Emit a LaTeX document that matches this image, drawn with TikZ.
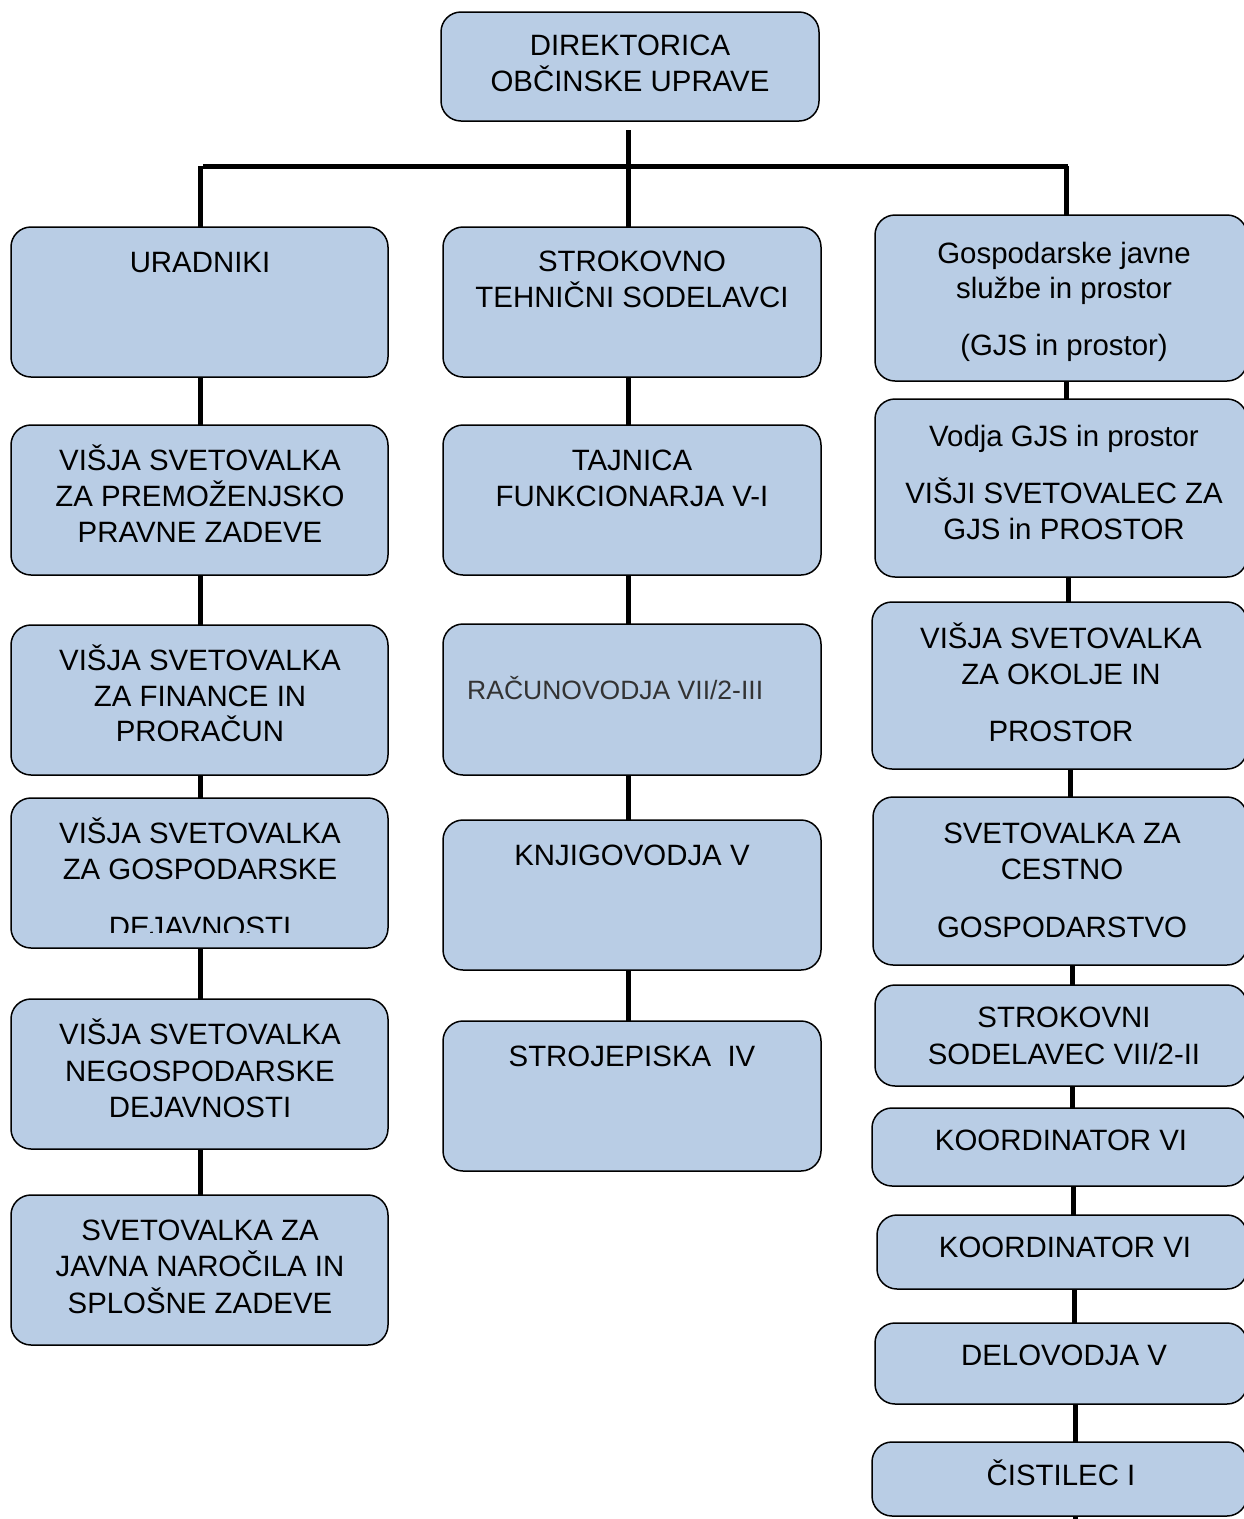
\documentclass[tikz,border=0pt]{standalone}
\usepackage{fontspec}
\setmainfont{Liberation Sans}
\definecolor{boxfill}{HTML}{B9CDE5}
\newcounter{lblc}
\newcommand\tx[3]{\stepcounter{lblc}\node[lbl] (t\arabic{lblc}) at (#1,#2) {#3};}
\begin{document}
\begin{tikzpicture}[x=1pt,y=-1pt,
  boxst/.style={draw=black, line width=1.5pt, fill=boxfill, rounded corners=20pt, inner sep=0pt, outer sep=0pt},
  lbl/.style={anchor=base, inner sep=0pt, font=\fontsize{29.4}{34}\selectfont},
  conn/.style={line width=5pt}]
\useasboundingbox (0,0) rectangle (1244,1519);
\clip (0,0) rectangle (1244,1519);
\fill[white] (0,0) rectangle (1244,1519);

% coordinates for connector lines
\coordinate (topc) at (628,130);
\coordinate (hl) at (203,166);
\coordinate (hr) at (1068,166);
\coordinate (cl) at (200,166);
\coordinate (cm) at (628,166);
\coordinate (cr0) at (1066,166);
\coordinate (cr1) at (1066,0);
\coordinate (cr2) at (1068,0);
\coordinate (cr3) at (1070,0);
\coordinate (cr4) at (1072,0);
\coordinate (cr5) at (1072,0);
\coordinate (cr6) at (1073,0);
\coordinate (cr7) at (1074,0);
\coordinate (cr8) at (1075,0);
\coordinate (bend) at (1075,1530);

% boxes
\node[boxst, minimum width=378pt, minimum height=109pt] (T) at (630,66.5) {};

\node[boxst, minimum width=377pt, minimum height=150pt] (L0) at (199.5,302) {};
\node[boxst, minimum width=377pt, minimum height=150pt] (L1) at (199.5,500) {};
\node[boxst, minimum width=377pt, minimum height=150pt] (L2) at (199.5,700) {};
\node[boxst, minimum width=377pt, minimum height=150pt] (L3) at (199.5,873) {};
\node[boxst, minimum width=377pt, minimum height=150pt] (L4) at (199.5,1074) {};
\node[boxst, minimum width=377pt, minimum height=150pt] (L5) at (199.5,1270) {};

\node[boxst, minimum width=378pt, minimum height=150pt] (M0) at (632,302) {};
\node[boxst, minimum width=378pt, minimum height=150pt] (M1) at (632,500) {};
\node[boxst, minimum width=378pt, minimum height=151pt] (M2) at (632,699.5) {};
\node[boxst, minimum width=378pt, minimum height=150pt] (M3) at (632,895) {};
\node[boxst, minimum width=378pt, minimum height=150pt] (M4) at (632,1096) {};

\node[boxst, minimum width=372pt, minimum height=166pt] (R0) at (1061,298) {};
\node[boxst, minimum width=372pt, minimum height=178pt] (R1) at (1061,488) {};
\node[boxst, minimum width=375pt, minimum height=167pt] (R2) at (1059.5,685.5) {};
\node[boxst, minimum width=374pt, minimum height=168pt] (R3) at (1060,881) {};
\node[boxst, minimum width=372pt, minimum height=101pt] (R4) at (1061,1035.5) {};
\node[boxst, minimum width=375pt, minimum height=78pt] (R5) at (1059.5,1147) {};
\node[boxst, minimum width=370pt, minimum height=74pt] (R6) at (1062,1252) {};
\node[boxst, minimum width=372pt, minimum height=81pt] (R7) at (1061,1363.5) {};
\node[boxst, minimum width=375pt, minimum height=74pt] (R8) at (1059.5,1479) {};

% top connectors
\draw[conn] (hl) -- (hr);
\draw[conn] (topc) -- (M0.north -| topc);
\draw[conn] (cl) -- (L0.north -| cl);
\draw[conn] (cr0) -- (R0.north -| cr0);

% column connectors
\foreach \a/\b in {L0/L1,L1/L2,L2/L3,L3/L4,L4/L5}
  \draw[conn] (\a.south -| cl) -- (\b.north -| cl);
\foreach \a/\b in {M0/M1,M1/M2,M2/M3,M3/M4}
  \draw[conn] (\a.south -| cm) -- (\b.north -| cm);
\draw[conn] (R0.south -| cr1) -- (R1.north -| cr1);
\draw[conn] (R1.south -| cr2) -- (R2.north -| cr2);
\draw[conn] (R2.south -| cr3) -- (R3.north -| cr3);
\draw[conn] (R3.south -| cr4) -- (R4.north -| cr4);
\draw[conn] (R4.south -| cr5) -- (R5.north -| cr5);
\draw[conn] (R5.south -| cr6) -- (R6.north -| cr6);
\draw[conn] (R6.south -| cr7) -- (R7.north -| cr7);
\draw[conn] (R7.south -| cr8) -- (R8.north -| cr8);
\draw[conn] (R8.south -| bend) -- (bend);

% texts
\tx{630}{55}{DIREKTORICA}
\tx{630}{91}{OBČINSKE UPRAVE}

\tx{200}{272}{URADNIKI}
\tx{200}{470}{VIŠJA SVETOVALKA}
\tx{200}{506}{ZA PREMOŽENJSKO}
\tx{200}{542}{PRAVNE ZADEVE}
\tx{200}{670}{VIŠJA SVETOVALKA}
\tx{200}{706}{ZA FINANCE IN}
\tx{200}{741}{PRORAČUN}
\tx{200}{843}{VIŠJA SVETOVALKA}
\tx{200}{879}{ZA GOSPODARSKE}
\begin{scope}
\clip (11,790) rectangle (388,932);
\tx{200}{937}{DEJAVNOSTI}
\end{scope}
\tx{200}{1044}{VIŠJA SVETOVALKA}
\tx{200}{1081}{NEGOSPODARSKE}
\tx{200}{1117}{DEJAVNOSTI}
\tx{200}{1240}{SVETOVALKA ZA}
\tx{200}{1276}{JAVNA NAROČILA IN}
\tx{200}{1313}{SPLOŠNE ZADEVE}

\tx{632}{271}{STROKOVNO}
\tx{632}{307}{TEHNIČNI SODELAVCI}
\tx{632}{470}{TAJNICA}
\tx{632}{506}{FUNKCIONARJA V-I}
\stepcounter{lblc}
\node[lbl, anchor=base west, text=black!80, font=\fontsize{26.5}{32}\selectfont] (t\arabic{lblc}) at (467,699) {RAČUNOVODJA VII/2-III};
\tx{632}{865}{KNJIGOVODJA V}
\tx{632}{1066}{STROJEPISKA\ \ IV}

\tx{1064}{263}{Gospodarske javne}
\tx{1064}{298}{službe in prostor}
\tx{1064}{355}{(GJS in prostor)}
\tx{1064}{446}{Vodja GJS in prostor}
\tx{1064}{503}{VIŠJI SVETOVALEC ZA}
\tx{1064}{539}{GJS in PROSTOR}
\tx{1061}{648}{VIŠJA SVETOVALKA}
\tx{1061}{684}{ZA OKOLJE IN}
\tx{1061}{741}{PROSTOR}
\tx{1062}{843}{SVETOVALKA ZA}
\tx{1062}{879}{CESTNO}
\tx{1062}{937}{GOSPODARSTVO}
\tx{1064}{1027}{STROKOVNI}
\tx{1064}{1064}{SODELAVEC VII/2-II}
\tx{1061}{1150}{KOORDINATOR VI}
\tx{1065}{1257}{KOORDINATOR VI}
\tx{1064}{1365}{DELOVODJA V}
\tx{1061}{1485}{ČISTILEC I}
\end{tikzpicture}
\end{document}
